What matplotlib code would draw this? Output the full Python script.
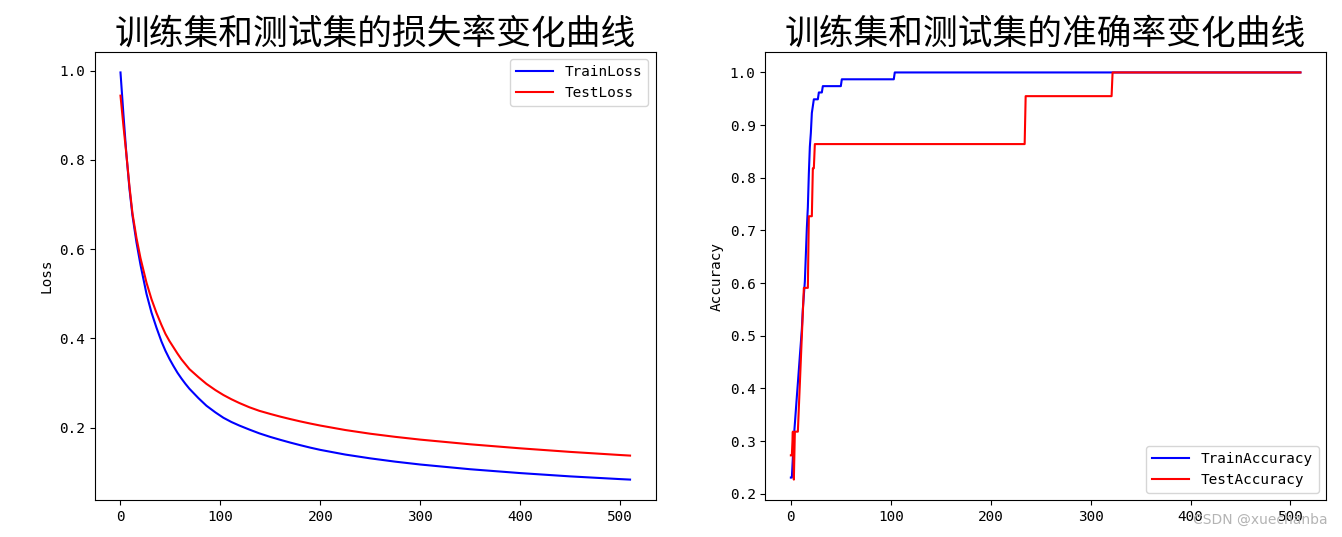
import matplotlib
matplotlib.use("Agg")
import matplotlib.pyplot as plt

# fonts: mono latin (close to SimHei look), CJK falls back to Noto
plt.rcParams['font.family'] = ['DejaVu Sans Mono', 'Noto Sans CJK SC']

# ---- loss curves ----
loss_epochs = [0, 3, 6, 9, 12, 16, 20, 26, 31, 36, 41, 45, 49, 53, 57, 61, 65, 69, 78, 86, 95, 103,
               111, 119, 129, 139, 150, 160, 170, 180, 190, 200, 225, 250, 275, 300, 350,
               400, 450, 500, 510]
train_loss = [0.996, 0.90, 0.81, 0.735, 0.675, 0.615, 0.565, 0.50, 0.458, 0.424, 0.393,
              0.372, 0.354, 0.338, 0.323, 0.31, 0.298, 0.287, 0.266, 0.249, 0.234, 0.222,
              0.2125, 0.2045, 0.1955, 0.187, 0.179, 0.1725, 0.1663, 0.1605, 0.155, 0.150,
              0.1395, 0.131, 0.1236, 0.1172, 0.1066, 0.098, 0.0906, 0.0845, 0.0834]
test_loss = [0.944, 0.875, 0.81, 0.74, 0.68, 0.625, 0.58, 0.525, 0.488, 0.457, 0.43,
             0.41, 0.394, 0.38, 0.366, 0.353, 0.342, 0.331, 0.313, 0.298, 0.284, 0.273,
             0.2635, 0.255, 0.2455, 0.2375, 0.2305, 0.2245, 0.219, 0.2138, 0.209, 0.2045,
             0.1945, 0.1862, 0.1792, 0.173, 0.1625, 0.1535, 0.1455, 0.1385, 0.1372]

# ---- accuracy curves, points where the value changes ----
train_acc_epochs = [0, 1, 2, 3, 4, 5, 6, 7, 8, 9, 10, 11, 12, 13, 14, 15, 16, 17, 18,
                    19, 20, 21, 22, 23, 27, 28, 31, 32, 50, 51, 103, 104, 510]
train_acc = [0.2308, 0.2308, 0.269, 0.308, 0.333, 0.359, 0.385, 0.41, 0.436, 0.462,
             0.487, 0.513, 0.551, 0.577, 0.603, 0.654, 0.705, 0.744, 0.808, 0.859,
             0.885, 0.923, 0.936, 0.949, 0.949, 0.962, 0.962, 0.974, 0.974, 0.987,
             0.987, 1.0, 1.0]
test_acc_epochs = [0, 1, 2, 3, 4, 7, 8, 9, 10, 11, 12, 13, 17, 18, 21, 22, 23, 24,
                   234, 235, 321, 322, 510]
test_acc = [0.273, 0.273, 0.318, 0.227, 0.318, 0.318, 0.364, 0.409, 0.455, 0.5,
            0.545, 0.591, 0.591, 0.727, 0.727, 0.818, 0.818, 0.864, 0.864, 0.955,
            0.955, 1.0, 1.0]

fs = 10.4
fig = plt.figure(figsize=(13.42, 5.37), dpi=100)

ax1 = fig.add_subplot(1, 2, 1)
ax1.plot(loss_epochs, train_loss, color='b', label='TrainLoss')
ax1.plot(loss_epochs, test_loss, color='r', label='TestLoss')
ax1.set_title('训练集和测试集的损失率变化曲线', fontsize=25, family='Noto Sans CJK SC')
ax1.set_ylabel('Loss', fontsize=fs)
ax1.tick_params(labelsize=fs)
ax1.legend(loc='upper right', fontsize=fs, handlelength=2.6)

ax2 = fig.add_subplot(1, 2, 2)
ax2.plot(train_acc_epochs, train_acc, color='b', label='TrainAccuracy')
ax2.plot(test_acc_epochs, test_acc, color='r', label='TestAccuracy')
ax2.set_title('训练集和测试集的准确率变化曲线', fontsize=25, family='Noto Sans CJK SC')
ax2.set_ylabel('Accuracy', fontsize=fs)
ax2.tick_params(labelsize=fs)
ax2.legend(loc='lower right', fontsize=fs, handlelength=2.6)

plt.subplots_adjust(left=0.0708, right=0.988, top=0.903, bottom=0.069, wspace=0.196)

# watermark in the bottom right corner
fig.text(0.989, 0.018, 'CSDN @xuechanba', ha='right', va='bottom', fontsize=10,
         color='#b4b4b4', family='DejaVu Sans')

plt.savefig('out.png', dpi=100)
